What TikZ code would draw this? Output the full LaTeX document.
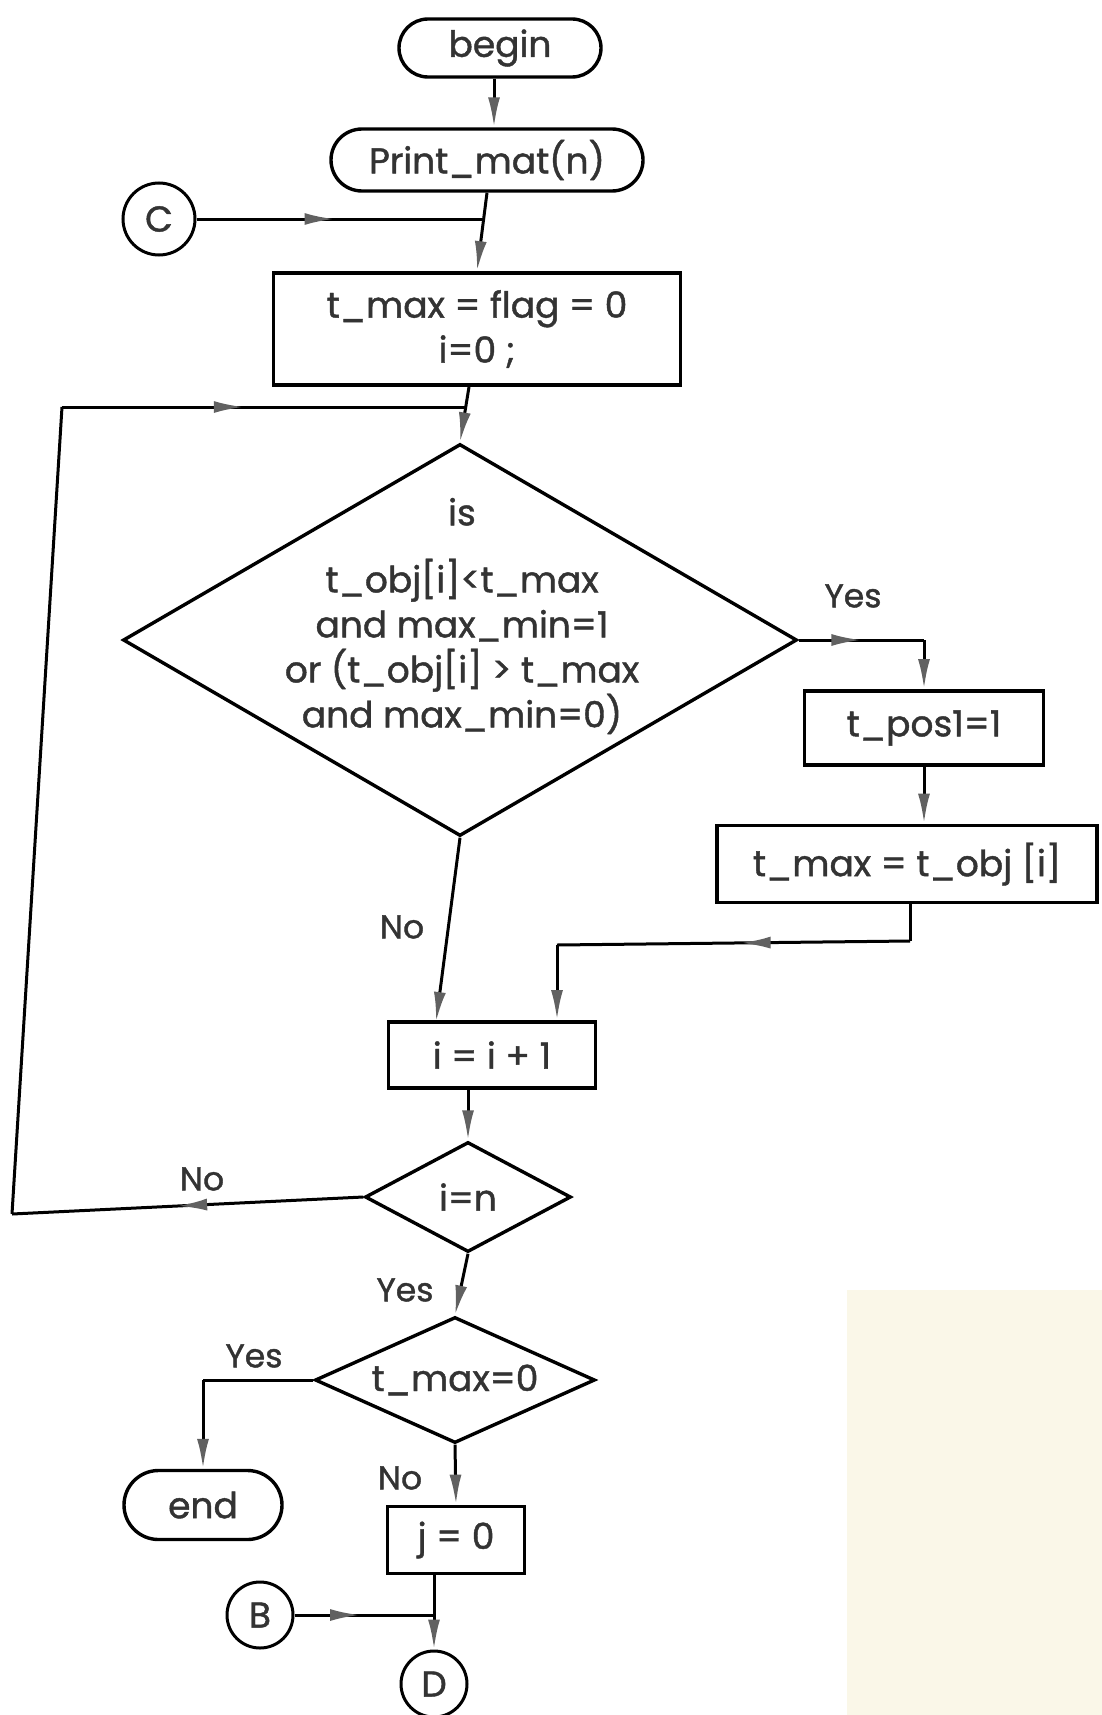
\documentclass[tikz,border=0pt]{standalone}
\usepackage{fontspec}
\setmainfont{Poppins}[BoldFont=Poppins, BoldFeatures={FakeBold=1.2}]
\usetikzlibrary{shapes.geometric,shapes.misc,arrows.meta,decorations.markings}

\begin{document}
\begin{tikzpicture}[x=1pt,y=-1pt,
  font=\fontsize{36}{45}\selectfont\bfseries,
  ftip/.tip={Latex[length=30pt,width=12pt,color=black!62]},
  line/.style={draw=black, line width=3pt},
  arr/.style={line, -ftip},
  midarr/.style={line, postaction={decorate},
    decoration={markings, mark=at position #1 with {\arrow{ftip}}}},
  midarr/.default=0.5,
  txt/.style={text=black!80},
  term/.style={draw, rounded rectangle, line width=3.4pt, inner sep=0pt, txt},
  proc/.style={draw, rectangle, line width=3.8pt, inner sep=0pt, txt, align=center},
  dec/.style={draw, diamond, line width=3.4pt, inner sep=0pt, aspect=2, txt},
  conn/.style={draw, circle, line width=3pt, inner sep=0pt, txt, font=\fontsize{36}{40}\selectfont\bfseries},
  lbl/.style={txt, font=\fontsize{33}{38}\selectfont\bfseries}
]
\useasboundingbox (0,0) rectangle (1102,1715);
\fill[fill={rgb,255:red,250;green,247;blue,232}] (847,1290) rectangle (1102,1715);

% --- nodes ---
\node[term, minimum width=202pt, minimum height=58pt] (begin) at (500,48) {begin};
\node[term, minimum width=312pt, minimum height=62pt] (print) at (487,160) {Print\_mat(n)};
\node[conn, minimum size=72pt] (C) at (159,219) {C};
\node[proc, minimum width=407pt, minimum height=112pt] (init) at (477,329)
  {t\_max = flag = 0\\ i=0 ;};
\node[dec, minimum width=674pt, minimum height=392pt] (cmp) at (460,640) {};
\node[txt, align=center] (cmptext) at (462,616)
  {is\\[22pt] t\_obj[i]<t\_max\\ and max\_min=1\\ or (t\_obj[i] > t\_max\\ and max\_min=0)};
\node[proc, minimum width=239pt, minimum height=74pt] (pos) at (924,728) {t\_pos1=1};
\node[proc, minimum width=380pt, minimum height=77pt] (tmax) at (907,864) {t\_max = t\_obj [i]};
\node[proc, minimum width=207pt, minimum height=66pt] (inc) at (492,1055) {i = i + 1};
\node[dec, minimum width=206pt, minimum height=110pt] (last) at (468,1197) {i=n};
\node[dec, minimum width=280pt, minimum height=126pt] (zero) at (455,1380) {t\_max=0};
\node[term, minimum width=158pt, minimum height=69pt] (end) at (203,1505) {end};
\node[proc, minimum width=137pt, minimum height=67pt] (j0) at (456,1540) {j = 0};
\node[conn, minimum size=66pt] (B) at (260,1615) {B};
\node[conn, minimum size=66pt] (D) at (434,1684) {D};

% --- branch labels ---
\node[lbl] (yes1) at (853,596) {Yes};
\node[lbl] (no1) at (402,927) {No};
\node[lbl] (no2) at (202,1179) {No};
\node[lbl] (yes2) at (405,1290) {Yes};
\node[lbl] (yes3) at (254,1356) {Yes};
\node[lbl] (no3) at (400,1478) {No};

% --- junction points ---
\coordinate (J1) at (484,219);
\coordinate (J2) at (466,407);
\coordinate (L1) at (62,407);
\coordinate (L2) at (12,1214);
\coordinate (Y1) at (pos.north |- cmp.east);
\coordinate (T1) at (910,941);
\coordinate (T2) at (557,945);
\coordinate (N1) at (436,1022);
\coordinate (E1) at (end.north |- zero.west);
\coordinate (J3) at (D.north |- B.east);

% --- connectors ---
\draw[arr] ([xshift=-6pt]begin.south) -- ([xshift=7pt]print.north);
\draw[arr] (print.south) -- (init.north);
\draw[midarr=0.48] (C.east) -- (J1);
\draw[arr] ([xshift=-8pt]init.south) -- (cmp.north);
\draw[midarr=0.45] (L1) -- (J2);
\draw[midarr=0.5] (cmp.east) -- (Y1);
\draw[arr] (Y1) -- (pos.north);
\draw[arr] (pos.south) -- (pos.south |- tmax.north);
\draw[line] (T1 |- tmax.south) -- (T1);
\draw[midarr=0.48] (T1) -- (T2);
\draw[arr] (T2) -- (T2 |- inc.north);
\draw[arr] (cmp.south) -- (N1);
\draw[arr] (last.north |- inc.south) -- (last.north);
\draw[midarr=0.53] (last.west) -- (L2);
\draw[line] (L2) -- (L1);
\draw[arr] (last.south) -- (zero.north);
\draw[line] (zero.west) -- (E1);
\draw[arr] (E1) -- (end.north);
\draw[arr] (zero.south) -- (j0.north);
\draw[arr] (D.north |- j0.south) -- (D.north);
\draw[midarr=0.47] (B.east) -- (J3);
\end{tikzpicture}
\end{document}
